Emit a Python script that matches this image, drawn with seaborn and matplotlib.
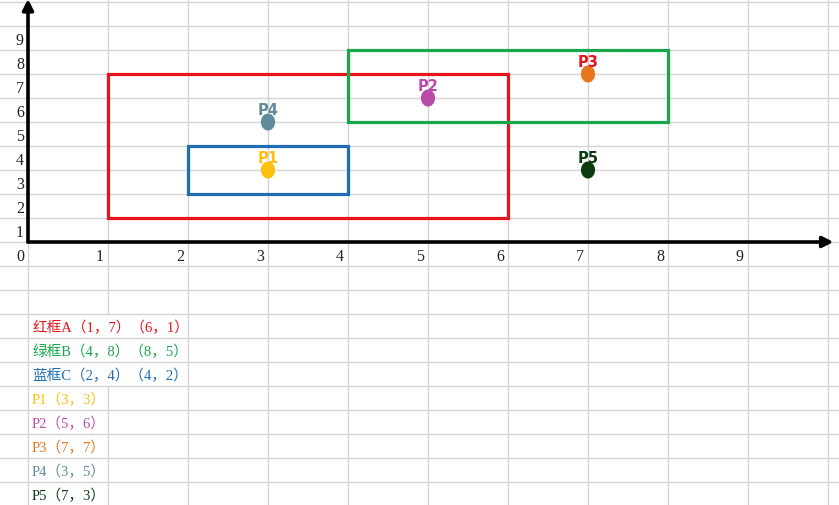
import matplotlib
matplotlib.use('Agg')
import matplotlib.pyplot as plt
from matplotlib.patches import Rectangle
import numpy as np
import pandas as pd
import seaborn as sns

# 矩形框: 左上角 / 右下角
box_names = ['红框A', '绿框B', '蓝框C']
box_left = [1, 4, 2]
box_top = [7, 8, 4]
box_right = [6, 8, 4]
box_bottom = [1, 5, 2]
box_colors = ['#e8141c', '#1aa64b', '#1f6db4']

# 点
pt_names = ['P1', 'P2', 'P3', 'P4', 'P5']
pt_x = [3, 5, 7, 3, 7]
pt_y = [3, 6, 7, 5, 3]
pt_colors = ['#fcc00d', '#b94ca9', '#e8761f', '#5f8b9a', '#0c3b12']
pt_label_colors = ['#fcc00d', '#b94ca9', '#e8141c', '#5f8b9a', '#0c3b12']

x_ticks = list(range(0, 10))
y_ticks = list(range(1, 10))

sns.set_theme(style='white')
plt.rcParams['font.family'] = ['Liberation Serif', 'Noto Sans CJK SC', 'DejaVu Sans']

fig = plt.figure(figsize=(8.39, 5.06), dpi=100)
ax = fig.add_axes([0, 0, 1, 1])
ax.set_xlim(-0.35, 839 / 80 - 0.35)
ax.set_ylim(243 / 24 - 506 / 24, 243 / 24)
ax.axis('off')

# 表格网格线
grid_c = '#d4d4d4'
ax.hlines(np.arange(-11, 11), -0.35, 10.2, color=grid_c, lw=1, zorder=0)
for gx in range(0, 11):
    if gx == 1:
        # 文字溢出的单元格不显示网格线
        ax.vlines(gx, -11, -6, color=grid_c, lw=1, zorder=0)
        ax.vlines(gx, -3, 10.2, color=grid_c, lw=1, zorder=0)
    else:
        ax.vlines(gx, -11, 10.2, color=grid_c, lw=1, zorder=0)

# 坐标轴箭头
ax.annotate('', xy=(0, 10.13), xytext=(0, -0.05),
            arrowprops=dict(arrowstyle='-|>', lw=2.6, color='black', mutation_scale=16,
                            shrinkA=0, shrinkB=0, capstyle='butt'), zorder=5)
ax.annotate('', xy=(10.07, 0), xytext=(-0.015, 0),
            arrowprops=dict(arrowstyle='-|>', lw=2.6, color='black', mutation_scale=16,
                            shrinkA=0, shrinkB=0, capstyle='butt'), zorder=5)

for t in x_ticks:
    ax.text(t - 0.05, -0.6, str(t), ha='right', va='center', fontsize=11.5,
            color='#222222', family=['Liberation Serif'])
for t in y_ticks:
    ax.text(-0.05, t - 0.6, str(t), ha='right', va='center', fontsize=11.5,
            color='#222222', family=['Liberation Serif'])

# 矩形框
for i in range(len(box_names)):
    ax.add_patch(Rectangle((box_left[i], box_bottom[i]), box_right[i] - box_left[i],
                           box_top[i] - box_bottom[i], fill=False,
                           edgecolor=box_colors[i], lw=2.3, zorder=3))

# 点 (略呈竖向椭圆)
theta = np.linspace(0, 2 * np.pi, 40)
ellipse = list(zip(0.83 * np.cos(theta), np.sin(theta)))
pts = pd.DataFrame({'x': pt_x, 'y': pt_y, 'name': pt_names})
sns.scatterplot(data=pts, x='x', y='y', hue='name', palette=pt_colors, marker=ellipse,
                s=150, linewidth=0, legend=False, ax=ax, zorder=4)
for i in range(len(pt_names)):
    ax.text(pt_x[i], pt_y[i] + 0.52, pt_names[i], ha='center', va='center', fontsize=10.5,
            fontweight='bold', color=pt_label_colors[i], family=['DejaVu Sans'],
            zorder=4)

# 说明文字
notes = []
note_colors = []
for i in range(len(box_names)):
    notes.append('%s（%d，%d）（%d，%d）' % (box_names[i], box_left[i], box_top[i],
                                         box_right[i], box_bottom[i]))
    note_colors.append(box_colors[i])
for i in range(len(pt_names)):
    notes.append('%s（%d，%d）' % (pt_names[i], pt_x[i], pt_y[i]))
    note_colors.append(pt_colors[i])
for i, s in enumerate(notes):
    ax.text(0.05, -3.55 - i, s, ha='left', va='center', fontsize=10.5, color=note_colors[i])

fig.savefig('out.png', dpi=100)
